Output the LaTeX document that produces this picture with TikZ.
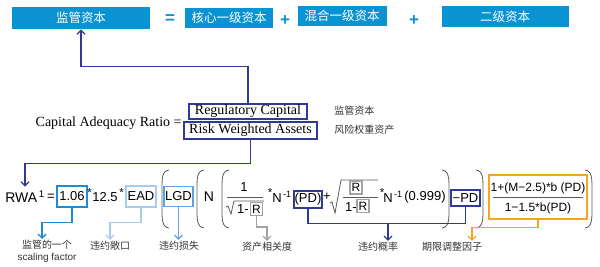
\documentclass[tikz,border=0pt]{standalone}
\usepackage{fontspec}
\setmainfont{Liberation Serif}
\newfontfamily\arial{Liberation Sans}
\newfontfamily\cjk{Noto Sans CJK SC}
\usepackage{tikz}
\usetikzlibrary{positioning,arrows.meta,calc}

\definecolor{capblue}{HTML}{0A93D2}
\definecolor{navy}{HTML}{2E3A96}
\definecolor{midblue}{HTML}{1E8BD3}
\definecolor{paleblue}{HTML}{A6CBEF}
\definecolor{lgdblue}{HTML}{5DA2E3}
\definecolor{rgray}{HTML}{A2A2A2}
\definecolor{orng}{HTML}{F7A51E}
\definecolor{pgray}{HTML}{5A5A5A}

\begin{document}
\begin{tikzpicture}[
    x=1pt, y=-1pt,
    capbox/.style={fill=capblue, text=white, inner sep=0pt, font=\cjk\fontsize{12.5}{14}\selectfont},
    capsign/.style={text=capblue, inner sep=0pt, font=\arial\bfseries\fontsize{17}{17}\selectfont},
    ratiobox/.style={draw=navy, line width=1.2pt, inner sep=0pt, font=\fontsize{14}{14}\selectfont},
    ftext/.style={inner sep=0pt, font=\arial\fontsize{13}{13}\selectfont},
    star/.style={inner sep=0pt, font=\arial\fontsize{11.5}{11.5}\selectfont},
    fmlbox/.style={draw, line width=1.3pt, inner sep=0pt, font=\arial\fontsize{13}{13}\selectfont},
    rbox/.style={draw=rgray, line width=1.1pt, inner sep=0pt, minimum width=12, minimum height=13, font=\arial\fontsize{12}{12}\selectfont},
    note/.style={inner sep=1pt, text=black!80, font=\cjk\fontsize{10}{12}\selectfont},
    paren/.style={draw=pgray, line width=0.8pt},
    link/.style={line width=1.3pt, -{Straight Barb[length=4pt,width=8pt]}},
    thick
]
\useasboundingbox (0,0) rectangle (600,267);

% 监管资本的构成
\node[capbox, minimum width=138, minimum height=22] (reg) at (81,18) {监管资本};
\node[capsign] (eq1) at (170,19) {=};
\node[capbox, minimum width=88, minimum height=20] (core) at (229,18) {核心一级资本};
\node[capsign] (plus1) at (285,21) {+};
\node[capbox, minimum width=89, minimum height=20] (hyb) at (342,16) {混合一级资本};
\node[capsign] (plus2) at (414,21) {+};
\node[capbox, minimum width=127, minimum height=21] (tier2) at (505,16.5) {二级资本};

% 资本充足率
\node[inner sep=0pt, anchor=base east, font=\fontsize{14}{14}\selectfont] (car) at (182,127) {Capital Adequacy Ratio =};
\node[ratiobox, minimum width=118, minimum height=15] (regcap) at (248,111.5) {Regulatory Capital};
\node[ratiobox, minimum width=133, minimum height=17] (rwa) at (250.5,130.5) {Risk Weighted Assets};
\node[note, anchor=west] (regcn) at (333,111) {监管资本};
\node[note, anchor=west] (rwacn) at (333,130) {风险权重资产};

\draw[navy, link] (regcap.north) -- ++(0,-37) -| (reg.south);

% RWA 公式
\node[ftext, font=\arial\fontsize{14}{14}\selectfont] (rwaf) at (25,197) {RWA\textsuperscript{\,1}};
\draw[navy, link, shorten >=4pt] (rwa.south) -- ++(0,24) -| (rwaf.north);
\node[ftext] (eq2) at (51,197) {=};
\node[fmlbox, draw=midblue, minimum width=30, minimum height=21] (b106) at (72,196.5) {1.06};
\node[star] (st1) at (89.5,193) {*};
\node[ftext] (n125) at (105,197) {12.5};
\node[star] (st2) at (121.5,193) {*};
\node[fmlbox, draw=paleblue, minimum width=30, minimum height=21] (bead) at (141,196.5) {EAD};
\node[fmlbox, draw=lgdblue, minimum width=29, minimum height=20] (blgd) at (178.5,196.5) {LGD};
\node[ftext, font=\arial\fontsize{14}{14}\selectfont] (nn) at (209,197) {N};

% 括号
\foreach \px in {162,197,222}
  \draw[paren] (\px+7,170) .. controls (\px,171) and (\px,178) .. (\px,190) -- (\px,208) .. controls (\px,220) and (\px,227) .. (\px+7,228);
\foreach \px in {449,483,592}
  \draw[paren] (\px-7,170) .. controls (\px,171) and (\px,178) .. (\px,190) -- (\px,208) .. controls (\px,220) and (\px,227) .. (\px-7,228);

% 1/sqrt(1-R)
\node[ftext] (one1) at (244,187) {1};
\draw[pgray, line width=0.8pt] (227,197) -- (263,197);
\draw[pgray, line width=0.8pt] (226,207) -- (228,206) -- (231,214) -- (234,201) -- (264,201);
\node[ftext] (onem1) at (243,209) {1-};
\node[rbox] (r1) at (256.5,209) {R};
\node[star] (st3) at (270,193) {*};
\node[ftext] (ninv1) at (282,197) {N\textsuperscript{\,-1}};
\node[fmlbox, draw=navy, minimum width=28, minimum height=17] (bpd) at (308,199.5) {(PD)};
\node[ftext] (plus3) at (327,197) {+};

% sqrt(R/(1-R))
\draw[pgray, line width=0.8pt] (330,203) -- (332,202) -- (335,213) -- (341,180) -- (378,180);
\node[rbox] (r2) at (356,187.5) {R};
\draw[pgray, line width=0.8pt] (343,197) -- (378,197);
\node[ftext] (onem2) at (351,207) {1-};
\node[rbox] (r3) at (363,206) {R};
\node[star] (st4) at (382,193) {*};
\node[ftext] (ninv2) at (393,197) {N\textsuperscript{\,-1}};
\node[ftext] (p999) at (425,197) {(0.999)};
\node[fmlbox, draw=navy, minimum width=29, minimum height=16] (bmpd) at (465.5,198) {−PD};

% 期限调整
\node[fmlbox, draw=orng, minimum width=98, minimum height=44] (bmat) at (538,197) {};
\node[ftext, font=\arial\fontsize{12}{12}\selectfont] (matnum) at (538,188) {1+(M−2.5)*b (PD)};
\draw[pgray, line width=0.8pt] (493,197) -- (583,197);
\node[ftext, font=\arial\fontsize{12}{12}\selectfont] (matden) at (538,208) {1−1.5*b(PD)};

% 注释
\node[note, anchor=north, align=center] (lab106) at (47,239) {监管的一个\\{\arial scaling factor}};
\node[note] (labead) at (110,246) {违约敞口};
\node[note] (lablgd) at (179,246) {违约损失};
\node[note] (labr) at (267,247) {资产相关度};
\node[note] (labpd) at (378,247) {违约概率};
\node[note] (labmat) at (452,247) {期限调整因子};

\draw[midblue, link] (b106.south) -- ++(0,15) -| ([xshift=-5pt]lab106.north);
\draw[paleblue, link] (bead.south) -- ++(0,15) -| (labead.north);
\draw[lgdblue, link] (blgd.south) -- (blgd.south |- lablgd.north);
\draw[rgray, link] (r1.south) -- ++(0,11) -| (labr.north);
\draw[navy, line width=1.3pt] (bpd.south) -- ++(0,15) coordinate (pdline) -| (bmpd.south);
\coordinate (pdtip) at ([xshift=10pt]labpd.north);
\draw[navy, link] (pdline -| pdtip) -- (pdtip);
\draw[orng, link] (bmat.south) -- ++(0,8) -| ([xshift=20pt]labmat.north);

\end{tikzpicture}
\end{document}
